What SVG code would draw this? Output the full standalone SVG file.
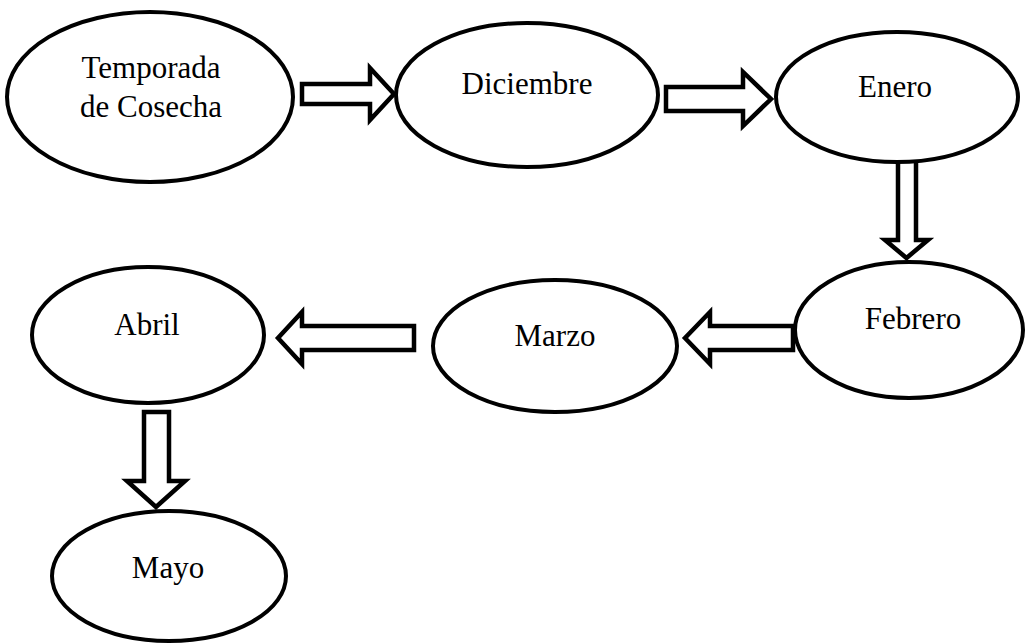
<svg xmlns="http://www.w3.org/2000/svg" width="1025" height="643" viewBox="0 0 1025 643">
<style>
.node ellipse{fill:#fff;stroke:#000;stroke-width:4}
.node text{font-family:"Liberation Serif","Times New Roman",serif;font-size:31px;fill:#000;text-anchor:middle}
#connectors path{fill:#fff;stroke:#000;stroke-width:4.5;stroke-linejoin:miter}
</style>
<rect width="1025" height="643" fill="#fff"/>
<g id="connectors">
<path d="M302,84 H370 V68 L394,94 L370,120 V104 H302 Z"/>
<path d="M666,87 H743 V72 L771,99 L743,126 V111 H666 Z"/>
<path d="M898,158 V240 H885 L906.5,258 L928,240 H916 V158 Z"/>
<path d="M793,326 H710 V312 L685,338 L710,364 V350 H793 Z"/>
<path d="M414,326 H302 V312 L278,338 L302,364 V350 H414 Z"/>
<path d="M144,412 V481 H127 L156,507 L185,481 H169 V412 Z"/>
</g>
<g id="temporada" class="node"><ellipse cx="150" cy="97" rx="143" ry="85"/><text x="151" y="78">Temporada</text><text x="151" y="117">de Cosecha</text></g>
<g id="diciembre" class="node"><ellipse cx="527" cy="95" rx="131" ry="72"/><text x="527" y="94">Diciembre</text></g>
<g id="enero" class="node"><ellipse cx="897" cy="97" rx="121" ry="65"/><text x="895" y="97">Enero</text></g>
<g id="febrero" class="node"><ellipse cx="909" cy="330" rx="114" ry="68"/><text x="913" y="329">Febrero</text></g>
<g id="marzo" class="node"><ellipse cx="555" cy="346" rx="122" ry="66"/><text x="555" y="346">Marzo</text></g>
<g id="abril" class="node"><ellipse cx="148" cy="335" rx="116" ry="68"/><text x="147" y="335">Abril</text></g>
<g id="mayo" class="node"><ellipse cx="169" cy="576" rx="117" ry="65"/><text x="168" y="578">Mayo</text></g>
</svg>
